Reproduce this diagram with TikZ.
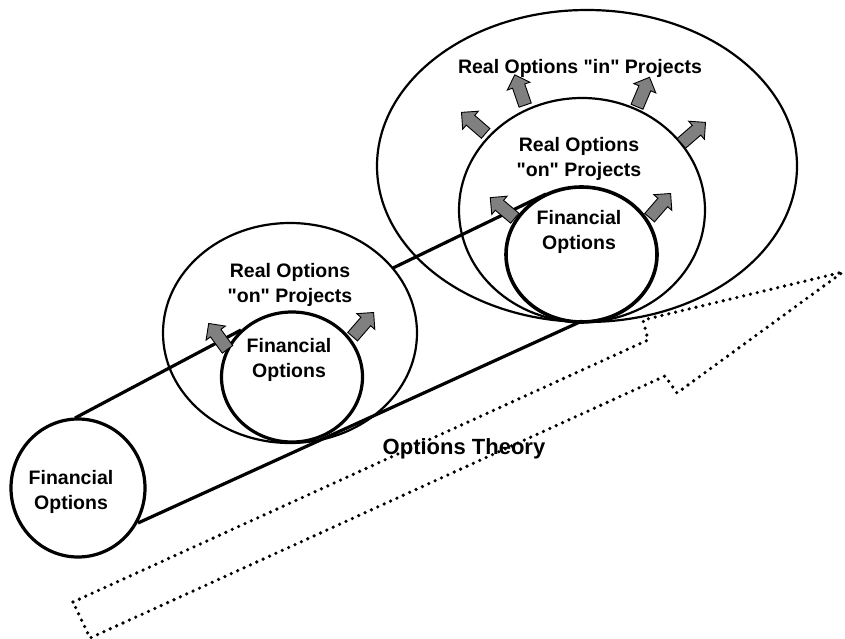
\documentclass[tikz,border=0pt]{standalone}
\usepackage{fontspec}
\setmainfont{Liberation Sans}
\usetikzlibrary{shapes.arrows}
\definecolor{arrowgray}{RGB}{128,128,128}
\tikzset{
  thin ring/.style={line width=2.2pt},
  thick ring/.style={line width=3.2pt},
  tube/.style={line width=3.2pt},
  txt/.style={font=\fontsize{19.5}{25.5}\selectfont\bfseries, align=center},
  grow arrow/.style={single arrow, draw=black, fill=arrowgray, line width=0.9pt,
    inner xsep=0pt, inner ysep=6pt, minimum height=32pt,
    single arrow head extend=5.5pt, single arrow tip angle=90},
  theory arrow/.style={line width=3.6pt, line cap=round, dash pattern=on 0pt off 7pt}
}
\newcommand{\q}{\textquotedbl}
\begin{document}
\begin{tikzpicture}[x=1pt, y=-1pt]
\useasboundingbox (0,0) rectangle (845,639);
% centres of the rings
\coordinate (fin1) at (78,488);
\coordinate (fin2) at (292,377);
\coordinate (ron2) at (290,333);
\coordinate (fin3) at (581.5,254.5);
\coordinate (ron3) at (582,210);
\coordinate (rin3) at (587,166);
% end points of the tube
\coordinate (fin1 top) at (75,418);
\coordinate (fin1 low) at (138,523);
\coordinate (fin2 top) at (241,330);
\coordinate (ron2 right) at (393,268);
\coordinate (fin3 top) at (546,194);
\coordinate (fin3 low) at (582,321);
% big dotted arrow
\coordinate (tail up) at (73,602);
\coordinate (tail low) at (90,638);
\coordinate (shaft up) at (648,340);
\coordinate (shaft low) at (665,376);
\coordinate (barb up) at (643,320);
\coordinate (barb low) at (677,393);
\coordinate (tip) at (843,272);
\draw[theory arrow] (tail up) -- (shaft up) -- (barb up) -- (tip)
  -- (barb low) -- (shaft low) -- (tail low) -- cycle;
\node[txt, font=\fontsize{22}{26}\selectfont\bfseries] (theory) at (464,449) {Options Theory};
% tube lines
\draw[tube] (fin1 top) -- (fin2 top);
\draw[tube] (ron2 right) -- (fin3 top);
\draw[tube] (fin1 low) -- (fin3 low);
% rings
\draw[thick ring] (fin1) ellipse [x radius=67pt, y radius=69pt];
\draw[thin ring] (ron2) ellipse [x radius=127pt, y radius=110pt];
\draw[thick ring] (fin2) ellipse [x radius=70.5pt, y radius=65pt];
\draw[thin ring] (rin3) ellipse [x radius=210pt, y radius=156pt];
\draw[thin ring] (ron3) ellipse [x radius=123pt, y radius=112pt];
\draw[line width=3.6pt] (fin3) ellipse [x radius=75.5pt, y radius=67.5pt];
% growth arrows
\node[grow arrow, rotate=126] (g1) at (220,339) {};
\node[grow arrow, rotate=49] (g2) at (361,327) {};
\node[grow arrow, rotate=140] (g3) at (505,210) {};
\node[grow arrow, rotate=49] (g4) at (658,208) {};
\node[grow arrow, rotate=109] (g5) at (521,93) {};
\node[grow arrow, rotate=67] (g6) at (642,95) {};
\node[grow arrow, rotate=139] (g7) at (476,125) {};
\node[grow arrow, rotate=41] (g8) at (691,135) {};
% texts
\node[txt] (t1) at (71,492) {Financial\\Options};
\node[txt] (t2) at (290,285) {Real Options\\\q on\q{} Projects};
\node[txt] (t3) at (289,360) {Financial\\Options};
\node[txt] (t4) at (580,68) {Real Options \q in\q{} Projects};
\node[txt] (t5) at (579,159) {Real Options\\\q on\q{} Projects};
\node[txt] (t6) at (579,232) {Financial\\Options};
\end{tikzpicture}
\end{document}
